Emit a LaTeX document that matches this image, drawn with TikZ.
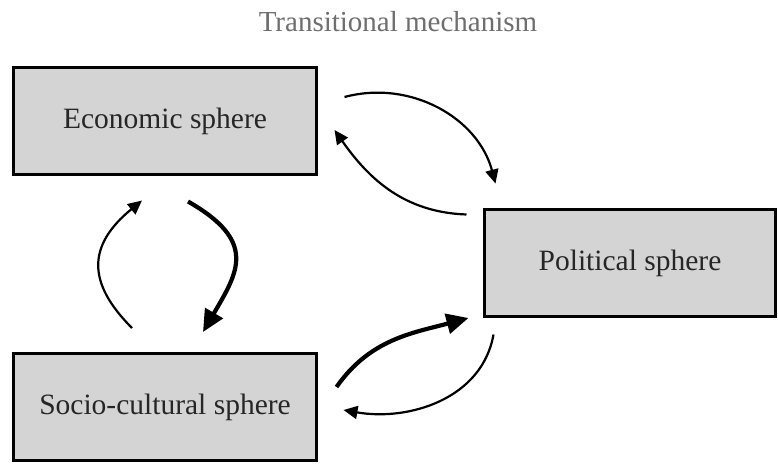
\documentclass[tikz,border=0pt]{standalone}
\usepackage{fontspec}
\setmainfont{Liberation Serif}
\usetikzlibrary{arrows.meta}
\definecolor{boxgray}{HTML}{D4D4D4}
\definecolor{titlegray}{HTML}{6E6E6E}

\begin{document}
\begin{tikzpicture}[x=1pt, y=1pt,
    sphere/.style={draw=black, line width=3pt, fill=boxgray,
      minimum width=303pt, minimum height=107pt, inner sep=0pt,
      text=black!85, font=\fontsize{29.5}{35}\selectfont},
    link/.style={line width=2.2pt, -{Triangle[length=14pt, width=13pt]}},
    strong/.style={line width=4.2pt, -{Triangle[length=22pt, width=20pt]}}]
  \useasboundingbox (0,0) rectangle (778,464);

  \node[text=titlegray, font=\fontsize{29}{35}\selectfont] (title) at (398,442) {Transitional mechanism};

  \node[sphere] (econ) at (165,343) {Economic sphere};
  \node[sphere, minimum width=291pt] (pol) at (630,201) {Political sphere};
  \node[sphere] (socio) at (165,57) {Socio-cultural sphere};

  % economic <-> political
  \draw[link] ([shift={(26.5,24)}]econ.east) to[out=15, in=105]
    ([shift={(12.5,24.5)}]pol.north west);
  \draw[link] ([shift={(-16.5,-6.5)}]pol.north west) to[out=178, in=-55]
    ([shift={(16.5,-9)}]econ.east);

  % economic <-> socio-cultural
  \draw[link] ([shift={(-33,24)}]socio.north) .. controls +(-45,45) and +(-55,-45) ..
    ([shift={(-23,-24.5)}]econ.south);
  \draw[strong] ([shift={(23,-25.5)}]econ.south) .. controls +(70,-40) and +(35,60) ..
    ([shift={(38,20)}]socio.north);

  % socio-cultural <-> political
  \draw[strong] ([shift={(18.5,20)}]socio.east) to[out=55, in=195]
    ([shift={(-14.5,0)}]pol.south west);
  \draw[link] ([shift={(10.5,-16.5)}]pol.south west) to[out=-100, in=-10]
    ([shift={(25.5,-3)}]socio.east);
\end{tikzpicture}
\end{document}
